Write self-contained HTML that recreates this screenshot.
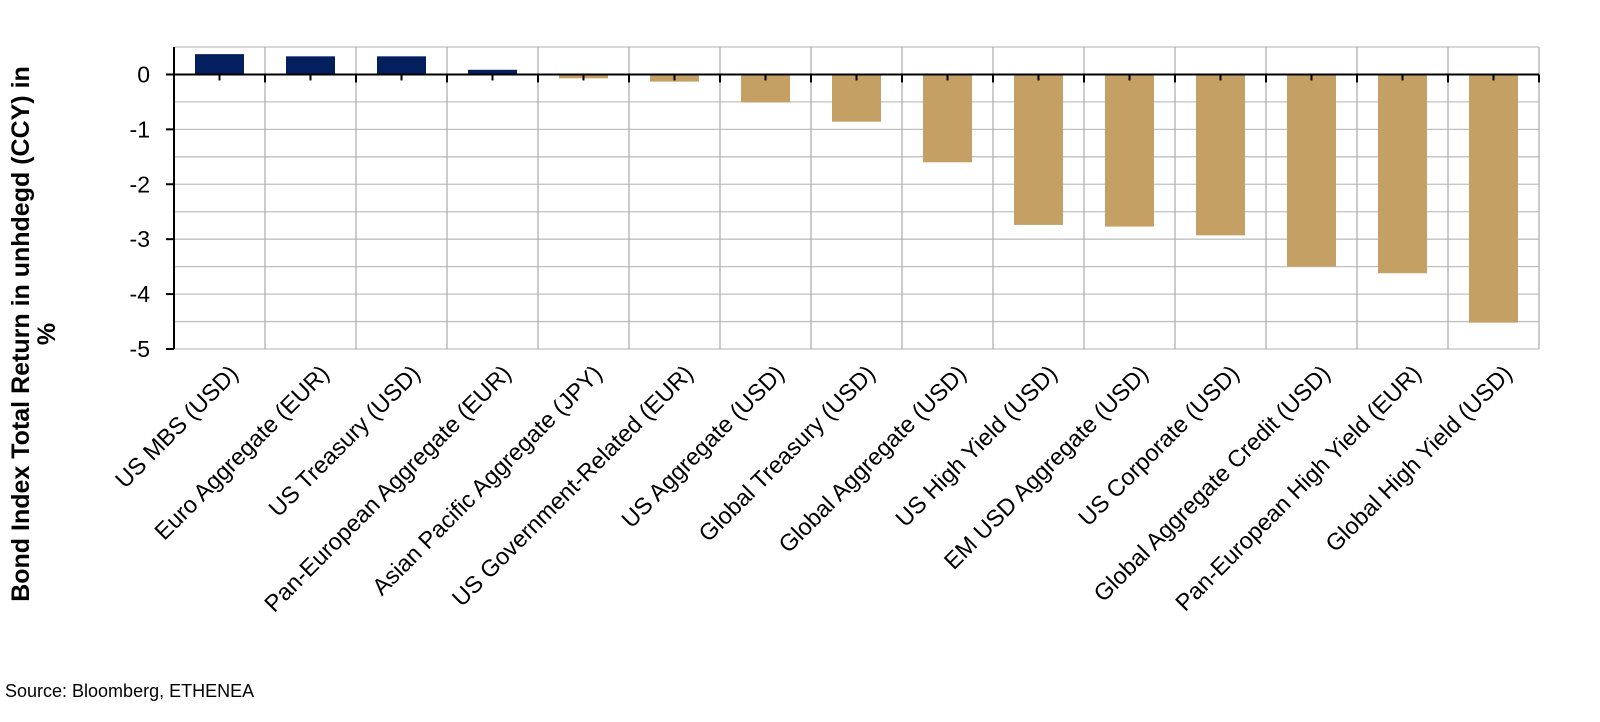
<!DOCTYPE html>
<html><head><meta charset="utf-8"><style>
body{margin:0;background:#fff;width:1600px;height:717px;overflow:hidden;font-family:"Liberation Sans",Arial,sans-serif}
</style></head><body>
<svg id="chart" width="1600" height="717" xmlns="http://www.w3.org/2000/svg" font-family="Liberation Sans, Arial, sans-serif">
<g id="grid"></g><g id="bars"></g><g id="axes"></g><g id="labels"></g>
<text transform="translate(29,334) rotate(-90)" text-anchor="middle" font-size="25" font-weight="bold" fill="#000">Bond Index Total Return in unhdegd (CCY) in</text>
<text transform="translate(55,334) rotate(-90)" text-anchor="middle" font-size="25" font-weight="bold" fill="#000">%</text>
<text x="5" y="697" font-size="18" fill="#000">Source: Bloomberg, ETHENEA</text>
</svg>
<script>
const categories=["US MBS (USD)","Euro Aggregate (EUR)","US Treasury (USD)","Pan-European Aggregate (EUR)","Asian Pacific Aggregate (JPY)","US Government-Related (EUR)","US Aggregate (USD)","Global Treasury (USD)","Global Aggregate (USD)","US High Yield (USD)","EM USD Aggregate (USD)","US Corporate (USD)","Global Aggregate Credit (USD)","Pan-European High Yield (EUR)","Global High Yield (USD)"];
const values=[0.37,0.33,0.33,0.085,-0.07,-0.13,-0.51,-0.86,-1.6,-2.74,-2.77,-2.93,-3.5,-3.62,-4.52];
const yTicks=[0,-1,-2,-3,-4,-5];
const NS="http://www.w3.org/2000/svg";
const L=174,R=1539,T=47,B=349,yMax=0.5,yMin=-5;
const y=v=>T+(yMax-v)/(yMax-yMin)*(B-T);
const cw=(R-L)/categories.length;
const x=i=>L+i*cw;
function mk(tag,attrs,parent){const e=document.createElementNS(NS,tag);for(const k in attrs)e.setAttribute(k,attrs[k]);document.getElementById(parent).appendChild(e);return e;}
for(let v=yMax;v>=yMin-1e-9;v-=0.5){const g=mk('line',{x1:L,x2:R,y1:y(v),y2:y(v),stroke:'#c0c0c0','stroke-width':1.3},'grid');

}
for(let i=1;i<=categories.length;i++){const g=mk('line',{x1:x(i),x2:x(i),y1:T,y2:B,stroke:'#b0b0b0','stroke-width':1.3},'grid');

}
const bw=49;
values.forEach((v,i)=>{const cx=x(i)+cw/2;const y0=y(0),y1=y(v);
const r=mk('rect',{x:cx-bw/2,y:Math.min(y0,y1),width:bw,height:Math.max(1,Math.abs(y1-y0)),fill:v>=0?'#041f5e':'#c4a064'},'bars');


const t=mk('text',{transform:`translate(${cx+20},${B+26}) rotate(-45)`,'text-anchor':'end','font-size':23.5,fill:'#000'},'labels');
t.textContent=categories[i];


const tk=mk('line',{x1:cx,x2:cx,y1:y(0),y2:y(0)+6,stroke:'#000','stroke-width':2},'axes');


const tk2=mk('line',{x1:x(i+1),x2:x(i+1),y1:y(0),y2:y(0)+8,stroke:'#000','stroke-width':2},'axes');

});
const ya=mk('line',{x1:L,x2:L,y1:T,y2:B,stroke:'#000','stroke-width':2},'axes');


const xa=mk('line',{x1:L-8,x2:R,y1:y(0),y2:y(0),stroke:'#000','stroke-width':2},'axes');


yTicks.forEach(v=>{const l=mk('line',{x1:L-8,x2:L,y1:y(v),y2:y(v),stroke:'#000','stroke-width':2},'axes');


const t=mk('text',{x:L-24,y:y(v)+8,'text-anchor':'end','font-size':23,fill:'#000'},'labels');
t.textContent=v;

});
</script>
</body></html>
